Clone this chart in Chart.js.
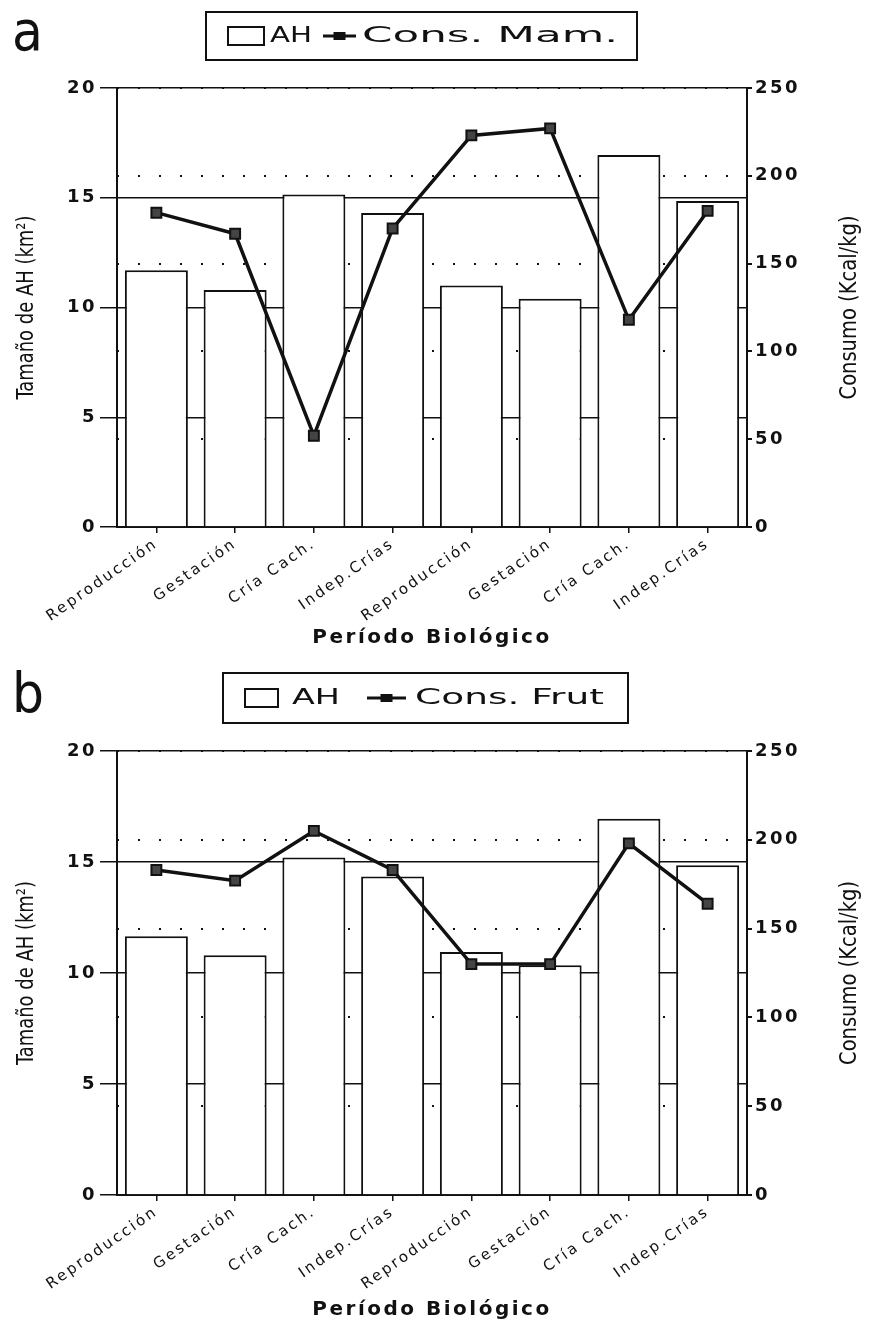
<!DOCTYPE html>
<html>
<head>
<meta charset="utf-8">
<script src="https://cdn.jsdelivr.net/npm/chart.js@4.4.1/dist/chart.umd.min.js"></script>
<style>
  body { margin: 0; background: #fff; }
  canvas { display: block; }
</style>
</head>
<body>
<canvas id="chartA" width="873" height="660"></canvas>
<canvas id="chartB" width="873" height="663"></canvas>
<script>
// periodos biologicos (eje x)
const periodos = ['Reproducción', 'Gestación', 'Cría Cach.', 'Indep.Crías',
                  'Reproducción', 'Gestación', 'Cría Cach.', 'Indep.Crías'];

// panel a
const ahMam = [11.7, 10.8, 15.15, 14.3, 11.0, 10.4, 16.95, 14.85];
const consMam = [179, 167, 52, 170, 223, 227, 118, 180];

// panel b
const ahFrut = [11.65, 10.8, 15.2, 14.35, 10.95, 10.35, 16.95, 14.85];
const consFrut = [183, 177, 205, 183, 130, 130, 198, 164];

// ejes
const ahMax = 20, ahStep = 5;
const consMax = 250, consStep = 50;

const tituloX = 'Período Biológico';
const tituloIzq = 'Tamaño de AH (km²)';
const tituloDer = 'Consumo (Kcal/kg)';

const ink = '#111';
const wide = '"DejaVu Sans", sans-serif';
const narrow = '"Liberation Sans Narrow", "DejaVu Sans Condensed", sans-serif';

// the scanned figure uses a very extended face, spread the letters a bit
const spacing = {
    id: 'spacing',
    beforeUpdate(chart) { chart.ctx.letterSpacing = '2.5px'; },
    beforeDraw(chart) { chart.ctx.letterSpacing = '2.5px'; }
};

let fitText = (ctx, text, x, y, w) => {
    let m = ctx.measureText(text).width;
    ctx.save();
    ctx.translate(x, y);
    ctx.scale(w / m, 1);
    ctx.fillText(text, 0, 0);
    ctx.restore();
};

const decor = {
    id: 'decor',
    afterDraw(chart, args, o) {
        const ctx = chart.ctx;
        const midY = (chart.chartArea.top + chart.chartArea.bottom) / 2;
        ctx.save();
        ctx.letterSpacing = '0px';
        ctx.fillStyle = ink;
        ctx.strokeStyle = ink;

        // panel letter
        ctx.font = '56px ' + narrow;
        ctx.textBaseline = 'alphabetic';
        ctx.fillText(o.letter, 12, o.letterY);

        // y axis titles, both read bottom to top
        ctx.font = '23px ' + narrow;
        ctx.textAlign = 'left';
        ctx.textBaseline = 'middle';
        [[27, tituloIzq], [850, tituloDer]].forEach(([x, t]) => {
            ctx.save();
            ctx.translate(x, midY);
            ctx.rotate(-Math.PI / 2);
            fitText(ctx, t, -92, 0, 184);
            ctx.restore();
        });

        // legend
        const b = o.box;
        const cy = b.y + b.h / 2;
        ctx.lineWidth = 2;
        ctx.strokeRect(b.x, b.y, b.w, b.h);
        ctx.strokeRect(o.sym[0], cy - 9, o.sym[1], 18);
        ctx.lineWidth = 3;
        ctx.beginPath();
        ctx.moveTo(o.line[0], cy);
        ctx.lineTo(o.line[0] + o.line[1], cy);
        ctx.stroke();
        ctx.fillRect(o.line[0] + o.line[1] / 2 - 6, cy - 4, 12, 8);
        ctx.textAlign = 'left';
        ctx.textBaseline = 'middle';
        ctx.font = '21px ' + wide;
        fitText(ctx, chart.data.datasets[0].label, o.ah[0], cy + 1, o.ah[1]);
        fitText(ctx, chart.data.datasets[1].label, o.txt[0], cy + 1, o.txt[1]);
        ctx.restore();
    }
};

let makeChart = (id, ah, cons, consLabel, o) => {
    const ctx = document.getElementById(id).getContext('2d');
    return new Chart(ctx, {
        type: 'bar',
        data: {
            labels: periodos,
            datasets: [{
                type: 'bar',
                label: 'AH',
                data: ah,
                yAxisID: 'yL',
                backgroundColor: '#fff',
                borderColor: ink,
                borderWidth: 2,
                categoryPercentage: 1,
                barPercentage: 0.8,
                order: 2
            }, {
                type: 'line',
                label: consLabel,
                data: cons,
                yAxisID: 'yR',
                borderColor: ink,
                borderWidth: 3.5,
                tension: 0,
                pointStyle: 'rect',
                pointRadius: 7,
                pointBackgroundColor: '#444',
                pointBorderColor: ink,
                pointBorderWidth: 2,
                order: 1
            }]
        },
        options: {
            responsive: false,
            animation: false,
            layout: { padding: { top: o.top, left: 0, right: 0, bottom: 0 } },
            plugins: {
                legend: { display: false },
                tooltip: { enabled: false },
                decor: o
            },
            scales: {
                x: {
                    grid: { drawOnChartArea: false, drawTicks: true, tickLength: 6, offset: false, color: ink, lineWidth: 1.5 },
                    border: { color: ink, width: 2 },
                    ticks: {
                        color: ink,
                        font: { family: wide, size: 15 },
                        minRotation: 35,
                        maxRotation: 35,
                        autoSkip: false,
                        padding: 2
                    },
                    title: {
                        display: true,
                        text: tituloX,
                        color: ink,
                        font: { family: wide, size: 20, weight: 'bold' },
                        padding: { top: 0, bottom: o.titlePad }
                    },
                    afterFit: (s) => { s.height = o.xHeight; }
                },
                yL: {
                    position: 'left',
                    min: 0,
                    max: ahMax,
                    ticks: { stepSize: ahStep, color: ink, font: { family: wide, size: 18, weight: 'bold' }, padding: 3 },
                    grid: { color: ink, lineWidth: 1.5, tickLength: 17 },
                    border: { color: ink, width: 2 },
                    afterFit: (s) => { s.width = 117; }
                },
                yR: {
                    position: 'right',
                    min: 0,
                    max: consMax,
                    ticks: { stepSize: consStep, color: ink, font: { family: wide, size: 18, weight: 'bold' }, padding: 3 },
                    grid: { color: ink, lineWidth: 2, tickLength: 5, tickBorderDash: [] },
                    border: { color: ink, width: 2, dash: [2, 19] },
                    afterFit: (s) => { s.width = 126; }
                }
            }
        },
        plugins: [spacing, decor]
    });
};

makeChart('chartA', ahMam, consMam, 'Cons. Mam.', {
    top: 88, xHeight: 133, titlePad: 10,
    letter: 'a', letterY: 50,
    box: { x: 206, y: 12, w: 431, h: 48 },
    sym: [228, 36], ah: [270, 42], line: [323, 33], txt: [362, 256]
});

makeChart('chartB', ahFrut, consFrut, 'Cons. Frut', {
    top: 91, xHeight: 128, titlePad: 1,
    letter: 'b', letterY: 52,
    box: { x: 223, y: 13, w: 405, h: 50 },
    sym: [245, 33], ah: [292, 48], line: [367, 39], txt: [415, 189]
});
</script>
</body>
</html>
